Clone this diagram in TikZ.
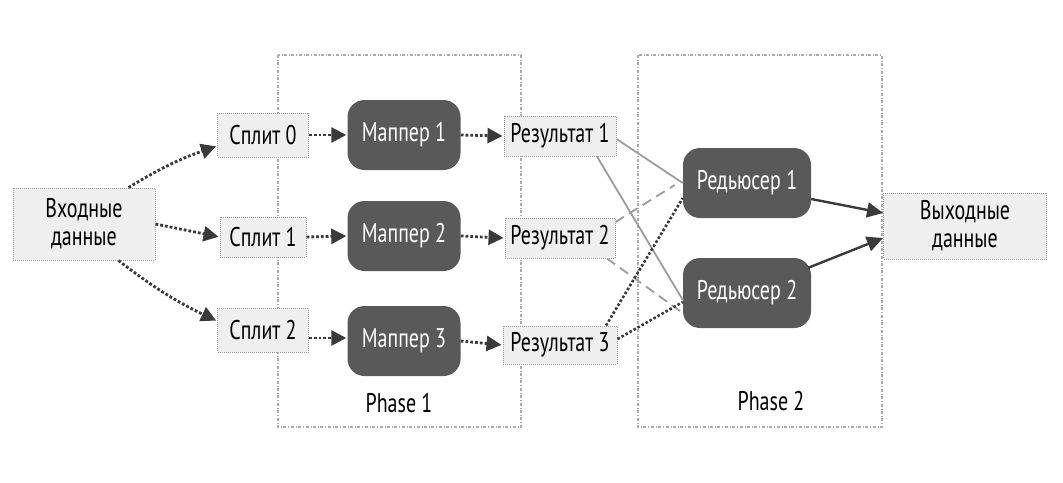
\documentclass[tikz,border=0pt]{standalone}
\usepackage{fontspec}
\setmainfont{PT Sans}[FakeStretch=0.74]
\usetikzlibrary{arrows.meta}
\definecolor{boxfill}{HTML}{EFEFEF}
\definecolor{boxline}{HTML}{9A9A9A}
\definecolor{dark}{HTML}{595959}
\definecolor{arr}{HTML}{3A3A3A}
\definecolor{phase}{HTML}{ABABAB}
\definecolor{lgray}{HTML}{9C9C9C}
\tikzset{
  lightbox/.style={rectangle, draw=boxline, densely dotted, line width=1pt, fill=boxfill, inner sep=0pt, align=center, text=black},
  darkbox/.style={rectangle, rounded corners=17pt, fill=dark, draw=none, text=white, inner sep=0pt, minimum width=113pt, minimum height=70pt},
  phasebox/.style={draw=phase, dash dot, line width=1.3pt},
  dotarrow/.style={draw=arr, dotted, line width=2.8pt, -{Triangle[length=15pt,width=15pt,fill=arr]}, shorten >=1pt},
  solidarrow/.style={draw=arr, line width=2.4pt, -{Triangle[length=16pt,width=15pt,fill=arr]}},
  grayline/.style={draw=lgray, line width=1.8pt},
  dashline/.style={draw=lgray, line width=1.8pt, dash pattern=on 10pt off 6pt},
  dotline/.style={draw=arr, dotted, line width=2.6pt},
  lbl/.style={font=\fontsize{27}{28}\selectfont}
}
\begin{document}
\begin{tikzpicture}[x=1pt,y=-1pt]
\useasboundingbox (0,0) rectangle (1063,482);
% phase boxes
\draw[phasebox] (278,55) rectangle (521,427);
\draw[phasebox] (638,55) rectangle (882,427);
\node[lbl] (ph1) at (399,403) {Phase 1};
\node[lbl] (ph2) at (771,401) {Phase 2};
% input
\node[lightbox, lbl, minimum width=142pt, minimum height=72pt] (in) at (84,224) {Входные\\данные};
% splits
\node[lightbox, lbl, minimum width=91pt, minimum height=44pt] (s0) at (263,135) {Сплит 0};
\node[lightbox, lbl, minimum width=86pt, minimum height=40pt] (s1) at (263,237) {Сплит 1};
\node[lightbox, lbl, minimum width=91pt, minimum height=44pt] (s2) at (263,330) {Сплит 2};
% mappers
\node[darkbox, lbl] (m1) at (404,135) {Маппер 1};
\node[darkbox, lbl] (m2) at (404,236) {Маппер 2};
\node[darkbox, lbl] (m3) at (404,341) {Маппер 3};
% results
\node[lightbox, lbl, minimum width=112pt, minimum height=40pt] (r1) at (560,136) {Результат 1};
\node[lightbox, lbl, minimum width=110pt, minimum height=40pt] (r2) at (560,238) {Результат 2};
\node[lightbox, lbl, minimum width=114pt, minimum height=38pt] (r3) at (560,345) {Результат 3};
% reducers
\node[darkbox, lbl, minimum width=128pt] (d1) at (747,183) {Редьюсер 1};
\node[darkbox, lbl, minimum width=128pt] (d2) at (747,293) {Редьюсер 2};
% output
\node[lightbox, lbl, minimum width=163pt, minimum height=66pt] (out) at (965,226) {Выходные\\данные};
% input -> splits
\draw[dotarrow] ([xshift=-27pt]in.north east) to[bend left=6] ([yshift=-11pt]s0.west);
\draw[dotarrow] (in.east) -- (s1.west);
\draw[dotarrow] ([xshift=-37pt]in.south east) to[bend right=6] ([yshift=9pt]s2.west);
% splits -> mappers
\draw[dotarrow] (s0.east) -- (m1.west);
\draw[dotarrow] (s1.east) -- (m2.west);
\draw[dotarrow] ([yshift=-8pt]s2.east) -- ([yshift=-8pt]s2.east -| m3.west);
% mappers -> results
\draw[dotarrow] (m1.east) -- (r1.west);
\draw[dotarrow] (m2.east) -- (r2.west);
\draw[dotarrow] (m3.east) -- (r3.west);
% results -> reducers
\draw[grayline] ([yshift=-3pt]r1.east) -- ([yshift=0pt]d1.west);
\draw[grayline] ([xshift=37pt]r1.south) -- ([yshift=-7pt]d2.west);
\draw[dashline] ([yshift=16pt]r2.east) -- ([xshift=-8pt,yshift=-2pt]d1.west);
\draw[dashline] ([xshift=47pt]r2.south) -- ([yshift=-20pt]d2.west);
\draw[dotline] ([xshift=46pt]r3.north) -- ([yshift=-15pt]d1.west);
\draw[dotline] ([yshift=6pt]r3.east) -- ([yshift=-9pt]d2.west);
% reducers -> output
\draw[solidarrow] ([yshift=-16pt]d1.east) -- ([yshift=13pt]out.west);
\draw[solidarrow] ([xshift=-3pt,yshift=-10pt]d2.north east) -- ([yshift=-12pt]out.west);
\end{tikzpicture}
\end{document}
